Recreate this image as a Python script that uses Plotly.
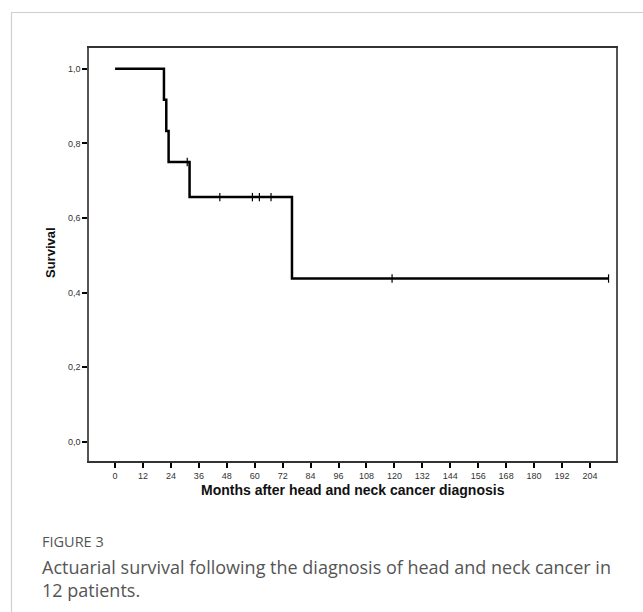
import plotly.graph_objects as go

# ---- data ----
step_months = [0, 21, 22, 23, 32, 76, 212]
step_survival = [1.0, 0.917, 0.833, 0.75, 0.656, 0.4375, 0.4375]
censor_months = [31, 45, 59, 62, 67, 119, 212]
censor_survival = [0.75, 0.656, 0.656, 0.656, 0.656, 0.4375, 0.4375]
x_ticks = list(range(0, 205, 12))
y_ticks = [0.0, 0.2, 0.4, 0.6, 0.8, 1.0]
y_tick_labels = ["0,0", "0,2", "0,4", "0,6", "0,8", "1,0"]

W, H = 643, 612
L, R, T, B = 89, 616, 48, 461  # plot area in pixels

def px(x):
    return (x - L) / (R - L)

def py(y):
    return (B - y) / (B - T)

fig = go.Figure()
fig.add_trace(go.Scatter(
    x=step_months, y=step_survival, mode="lines",
    line=dict(shape="hv", color="black", width=2.5),
    hoverinfo="skip", showlegend=False))
fig.add_trace(go.Scatter(
    x=censor_months, y=censor_survival, mode="markers",
    marker=dict(symbol="line-ns", size=6, line=dict(color="black", width=1.2)),
    hoverinfo="skip", showlegend=False))

axis_font = dict(family="Liberation Sans, Arial, sans-serif", size=9, color="#333")

fig.update_layout(
    width=W, height=H,
    margin=dict(l=L, r=W - R, t=T, b=H - B),
    paper_bgcolor="white", plot_bgcolor="white",
    xaxis=dict(
        range=[-11.2, 215.2], tickvals=x_ticks, ticks="outside", ticklen=5,
        tickwidth=1.5, tickcolor="black", showgrid=False, zeroline=False,
        showline=True, linecolor="#333", linewidth=2, mirror=True,
        tickfont=axis_font,
    ),
    yaxis=dict(
        range=[-0.052, 1.056], tickvals=y_ticks, ticktext=y_tick_labels,
        ticks="outside", ticklen=5, tickwidth=1.5, tickcolor="black",
        showgrid=False, zeroline=False, showline=True, linecolor="#555",
        linewidth=1.5, mirror=True, tickfont=axis_font,
    ),
    shapes=[
        dict(type="path", xref="paper", yref="paper",
             path=f"M {px(11.5)} {py(612)} L {px(11.5)} {py(12.5)} L {px(643)} {py(12.5)}",
             line=dict(color="#cfcfcf", width=1.2)),
    ],
    annotations=[
        dict(text="<b>Months after head and neck cancer diagnosis</b>", xref="paper", yref="paper",
             x=px(353), y=py(490), xanchor="center", yanchor="middle", showarrow=False,
             font=dict(family="Liberation Sans, Arial, sans-serif", size=14, color="#111")),
        dict(text="<b>Survival</b>", xref="paper", yref="paper", textangle=-90,
             x=px(51), y=py(253), xanchor="center", yanchor="middle", showarrow=False,
             font=dict(family="Liberation Sans, Arial, sans-serif", size=13, color="#111")),
        dict(text="FIGURE 3", xref="paper", yref="paper",
             x=px(40), y=py(541), xanchor="left", yanchor="middle", showarrow=False,
             font=dict(family="Open Sans, sans-serif", size=14.5, color="#555")),
        dict(text="Actuarial survival following the diagnosis of head and neck cancer in<br>12 patients.",
             xref="paper", yref="paper", align="left",
             x=px(40), y=py(553), xanchor="left", yanchor="top", showarrow=False,
             font=dict(family="Open Sans, sans-serif", size=18, color="#555")),
    ],
)

fig.write_html("out.html")
